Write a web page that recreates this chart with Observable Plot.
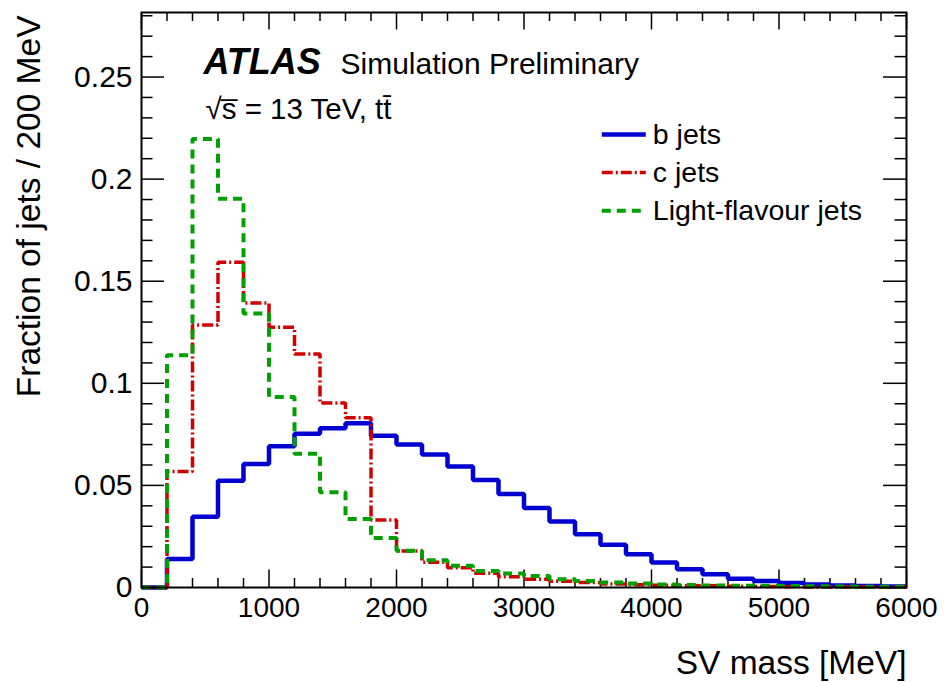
<!DOCTYPE html>
<html>
<head>
<meta charset="utf-8">
<script src="https://cdn.jsdelivr.net/npm/d3@7"></script>
<script src="https://cdn.jsdelivr.net/npm/@observablehq/plot@0.6"></script>
<style>
  html, body { margin: 0; padding: 0; background: #fff; }
  #chart svg { display: block; }
</style>
</head>
<body>
<div id="chart"></div>
<script>
// SV mass histograms, 200 MeV bins from 0 to 6000 MeV (bin lower edges)
const binEdges = d3.range(0, 6000, 200);
const binWidth = 200;

// Fraction of jets per bin
const bJets = [0, 0.0139, 0.0346, 0.0523, 0.0605, 0.0692, 0.0753, 0.0780, 0.0805, 0.0743,
  0.0700, 0.0651, 0.0592, 0.0527, 0.0458, 0.0389, 0.0323, 0.0261, 0.0209, 0.0163,
  0.0122, 0.0089, 0.0065, 0.0043, 0.0032, 0.0022, 0.0015, 0.0010, 0.0007, 0.0005];
const cJets = [0, 0.0568, 0.1285, 0.1593, 0.1393, 0.1274, 0.1143, 0.0903, 0.0831, 0.0330,
  0.0179, 0.0124, 0.0097, 0.0070, 0.0053, 0.0040, 0.0030, 0.0024, 0.0017, 0.0013,
  0.0011, 0.0009, 0.0008, 0.0006, 0.0005, 0.0004, 0.0003, 0.0003, 0.0002, 0.0002];
const lightJets = [0, 0.1138, 0.2197, 0.1904, 0.1342, 0.0933, 0.0655, 0.0466, 0.0335, 0.0242,
  0.0180, 0.0134, 0.0106, 0.0081, 0.0068, 0.0056, 0.0040, 0.0032, 0.0024, 0.0019,
  0.0015, 0.0012, 0.0010, 0.0009, 0.0008, 0.0007, 0.0006, 0.0005, 0.0004, 0.0004];

// Axis ticks and labels
const xTicks = [0, 1000, 2000, 3000, 4000, 5000, 6000];
const xMinorTicks = d3.range(200, 6000, 200).filter(v => v % 1000 !== 0);
const yTicks = [0, 0.05, 0.1, 0.15, 0.2, 0.25];
const yTickLabels = ["0", "0.05", "0.1", "0.15", "0.2", "0.25"];
const yMinorTicks = d3.range(1, 29).map(i => i / 100).filter(v => Math.round(v * 100) % 5 !== 0);

const seriesNames = ["b jets", "c jets", "Light-flavour jets"];
const seriesValues = [bJets, cJets, lightJets];

// Styling for each series
const seriesStyle = [
  {stroke: "#0000d0", strokeWidth: 4.5, dash: null},
  {stroke: "#d00000", strokeWidth: 3.5, dash: "11,3,2,3"},
  {stroke: "#00a000", strokeWidth: 4, dash: "9,6"}
];

// Layout
const width = 945, height = 682;
const marginLeft = 141, marginRight = 39, marginTop = 12, marginBottom = 95;
const frameW = width - marginLeft - marginRight;
const frameH = height - marginTop - marginBottom;
const font = "'Liberation Sans', Arial, Helvetica, sans-serif";

// Step outline for one histogram: a point at each lower edge plus the final upper edge
function stepPoints(values) {
  const pts = binEdges.map((x, i) => ({x, y: values[i]}));
  pts.push({x: binEdges[binEdges.length - 1] + binWidth, y: values[values.length - 1]});
  return pts;
}

// Legend key positions (data coordinates inside the frame)
const legendX1 = 3610, legendX2 = 3955, legendTextX = 4010;
const legendY = [0.2219, 0.2032, 0.1845];

const histMarks = seriesValues.map((vals, i) => Plot.line(stepPoints(vals), {
  x: "x", y: "y", curve: "step-after",
  stroke: seriesStyle[i].stroke, strokeWidth: seriesStyle[i].strokeWidth,
  strokeDasharray: seriesStyle[i].dash, strokeLinejoin: "miter", strokeLinecap: "butt"
}));

const legendMarks = seriesNames.flatMap((name, i) => [
  Plot.link([name], {
    x1: () => legendX1, x2: () => legendX2, y1: () => legendY[i], y2: () => legendY[i],
    stroke: seriesStyle[i].stroke, strokeWidth: seriesStyle[i].strokeWidth,
    strokeDasharray: seriesStyle[i].dash, strokeLinecap: "butt"
  }),
  Plot.text([name], {
    x: () => legendTextX, y: () => legendY[i], text: d => d,
    textAnchor: "start", lineAnchor: "middle", fontSize: 28.5, fill: "#000"
  })
]);

const tickStyle = {stroke: "#000", strokeWidth: 1.5};

const chart = Plot.plot({
  width, height, marginLeft, marginRight, marginTop, marginBottom,
  style: {fontFamily: font, color: "#000", background: "#fff", overflow: "visible"},
  x: {domain: [0, 6000]},
  y: {domain: [0, 0.2816]},
  marks: [
    // inward ticks on all four sides
    Plot.ruleX(xMinorTicks, {...tickStyle, insetTop: frameH - 9}),
    Plot.ruleX(xTicks, {...tickStyle, insetTop: frameH - 17.5}),
    Plot.ruleX(xMinorTicks, {...tickStyle, insetBottom: frameH - 9}),
    Plot.ruleX(xTicks, {...tickStyle, insetBottom: frameH - 17.5}),
    Plot.ruleY(yMinorTicks, {...tickStyle, insetRight: frameW - 11.5}),
    Plot.ruleY(yTicks, {...tickStyle, insetRight: frameW - 23}),
    Plot.ruleY(yMinorTicks, {...tickStyle, insetLeft: frameW - 11.5}),
    Plot.ruleY(yTicks, {...tickStyle, insetLeft: frameW - 23}),
    Plot.axisX({ticks: xTicks, tickSize: 0, tickPadding: 10, fontSize: 28, label: null,
      tickFormat: d => String(d)}),
    Plot.axisY({ticks: yTicks, tickSize: 0, tickPadding: 9, fontSize: 30, label: null,
      tickFormat: d => yTickLabels[yTicks.indexOf(d)]}),
    ...histMarks,
    Plot.frame({stroke: "#000", strokeWidth: 2}),
    // axis titles
    Plot.text(["SV mass [MeV]"], {frameAnchor: "bottom-right", dy: 76, textAnchor: "end",
      lineAnchor: "middle", fontSize: 33.5, fill: "#000"}),
    Plot.text(["Fraction of jets / 200 MeV"], {frameAnchor: "top-left", dx: -112, dy: 3,
      rotate: -90, textAnchor: "end", lineAnchor: "middle", fontSize: 33.5, fill: "#000"}),
    // labels
    Plot.text(["ATLAS"], {frameAnchor: "top-left", dx: 62, dy: 61, textAnchor: "start",
      lineAnchor: "bottom", fontSize: 36, fontWeight: "bold", fontStyle: "italic", fill: "#000"}),
    Plot.text(["Simulation Preliminary"], {frameAnchor: "top-left", dx: 199, dy: 61, textAnchor: "start",
      lineAnchor: "bottom", fontSize: 30, fill: "#000"}),
    Plot.text(["\u221As\u0305 = 13 TeV, tt\u0304"], {frameAnchor: "top-left", dx: 64, dy: 106, textAnchor: "start",
      lineAnchor: "bottom", fontSize: 29.5, fill: "#000"}),
    ...legendMarks
  ]
});

document.getElementById("chart").appendChild(chart);
</script>
</body>
</html>
